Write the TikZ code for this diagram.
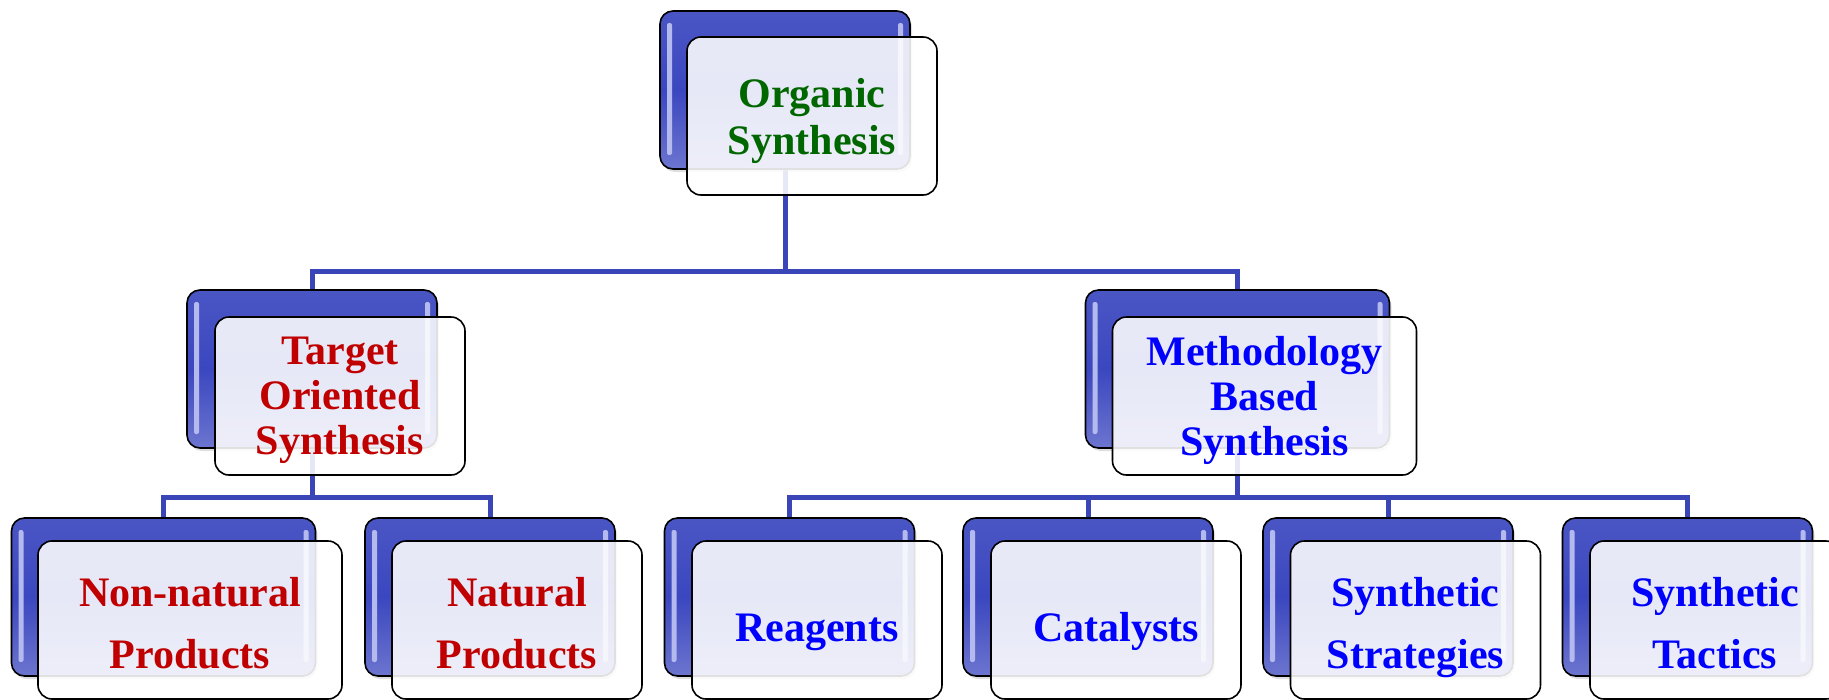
\documentclass[tikz,border=0pt]{standalone}
\usepackage{fontspec}
\setmainfont{Liberation Serif}
\usetikzlibrary{backgrounds,shadows}
\definecolor{conn}{HTML}{3A46B8}
\definecolor{boxblue}{HTML}{3B47BF}
\definecolor{hl}{HTML}{B4BAEE}
\definecolor{tgreen}{HTML}{006600}
\definecolor{tred}{HTML}{C00000}
\definecolor{tblue}{HTML}{0000FF}
\newcommand\twolines[2]{\raisebox{0pt}[29pt][57pt]{\begin{tabular}[t]{@{}c@{}}#1\\#2\end{tabular}}}
\begin{document}
\begin{tikzpicture}[x=1pt,y=-1pt,
  backbox/.style={draw=black, line width=1.6pt, rounded corners=13pt,
    minimum height=158pt, minimum width=250pt, inner sep=0pt,
    top color=boxblue!92!white, bottom color=boxblue!75!white, middle color=boxblue,
    drop shadow={opacity=0.25, shadow xshift=2pt, shadow yshift=-3pt},
    path picture={
      \fill[hl, rounded corners=2pt]
        ([xshift=7pt,yshift=-12pt]path picture bounding box.north west) rectangle
        ([xshift=12pt,yshift=14pt]path picture bounding box.south west);
      \fill[hl, rounded corners=2pt]
        ([xshift=-12pt,yshift=-12pt]path picture bounding box.north east) rectangle
        ([xshift=-7pt,yshift=14pt]path picture bounding box.south east);
    }},
  frontbox/.style={draw=black, line width=1.6pt, rounded corners=14pt,
    minimum height=158pt, minimum width=250pt, inner sep=0pt,
    fill=white, fill opacity=0.88, text opacity=1, align=center,
    text depth=1pt, font=\fontsize{42}{45}\selectfont\bfseries},
  topbox/.style={frontbox, text depth=0pt, font=\fontsize{42}{47}\selectfont\bfseries},
  lowbox/.style={frontbox, text depth=, font=\fontsize{42}{62}\selectfont\bfseries},
  lowone/.style={frontbox, text depth=0pt, font=\fontsize{42}{64}\selectfont\bfseries,
    execute at begin node={\rule{0pt}{42pt}}},
  wide/.style={minimum width=304pt},
  link/.style={draw=conn, line width=5pt, line join=miter}
]
\useasboundingbox (0,0) rectangle (1829,699);

% level 1
\node[backbox] (ob) at (785,90) {};
\node[topbox, text=tgreen] (o) at (812,116) {Organic\\Synthesis};

% level 2
\node[backbox] (tb) at (312,369) {};
\node[frontbox, text=tred] (t) at (340,396) {Target\\Oriented\\Synthesis};
\node[backbox, wide] (mb) at (1237.5,369) {};
\node[frontbox, wide, text=tblue] (m) at (1264.5,396) {Methodology\\Based\\Synthesis};

% level 3
\node[backbox, wide] (nnb) at (163.5,597) {};
\node[lowbox, wide, text=tred] (nn) at (190,620) {\twolines{Non-natural}{Products}};
\node[backbox] (npb) at (490,597) {};
\node[lowbox, text=tred] (np) at (517,620) {\twolines{Natural}{Products}};
\node[backbox] (rb) at (789.5,597) {};
\node[lowone, text=tblue] (r) at (817,620) {Reagents};
\node[backbox] (cb) at (1088,597) {};
\node[lowone, text=tblue] (c) at (1116,620) {Catalysts};
\node[backbox] (sb) at (1388,597) {};
\node[lowbox, text=tblue] (s) at (1415.5,620) {\twolines{Synthetic}{Strategies}};
\node[backbox] (xb) at (1687.5,597) {};
\node[lowbox, text=tblue] (x) at (1715,620) {\twolines{Synthetic}{Tactics}};

\begin{scope}[on background layer]
\coordinate (bus1) at (0,271);
\coordinate (bus2) at (0,497);
\draw[link] (ob.center) -- (ob |- bus1) -| (tb.center);
\draw[link] (ob |- bus1) -| (mb.center);
\draw[link] (tb.center) -- (tb |- bus2) -| (nnb.center);
\draw[link] (tb |- bus2) -| (npb.center);
\draw[link] (mb.center) -- (mb |- bus2) -| (rb.center);
\draw[link] (mb |- bus2) -| (xb.center);
\draw[link] (mb |- bus2) -| (cb.center);
\draw[link] (mb |- bus2) -| (sb.center);
\end{scope}
\end{tikzpicture}
\end{document}
